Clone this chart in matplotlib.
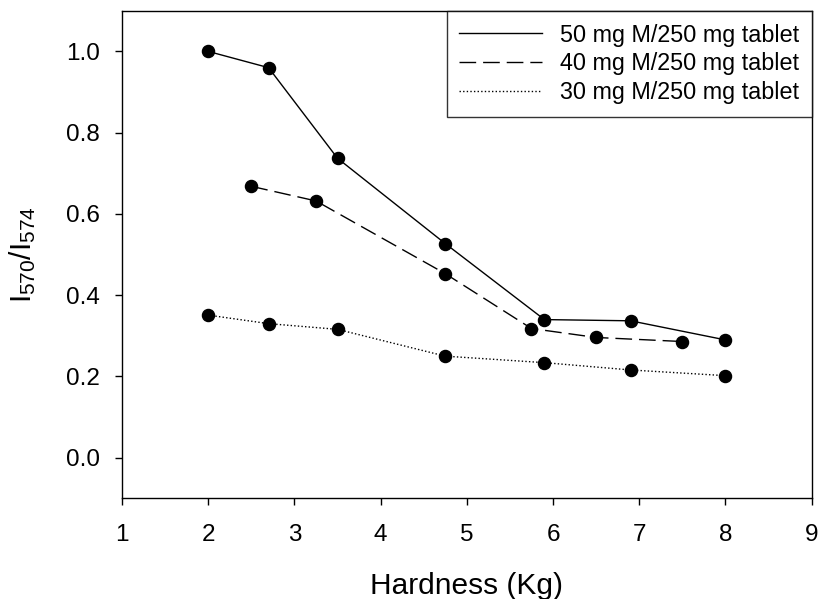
import matplotlib
matplotlib.use('Agg')
import matplotlib.pyplot as plt

# hardness (Kg) and intensity ratio for each tablet loading
hard_50 = [2.0, 2.7, 3.5, 4.75, 5.9, 6.9, 8.0]
ratio_50 = [1.0, 0.96, 0.737, 0.527, 0.34, 0.337, 0.29]

hard_40 = [2.5, 3.25, 4.75, 5.75, 6.5, 7.5]
ratio_40 = [0.668, 0.632, 0.453, 0.318, 0.296, 0.286]

hard_30 = [2.0, 2.7, 3.5, 4.75, 5.9, 6.9, 8.0]
ratio_30 = [0.351, 0.33, 0.316, 0.25, 0.234, 0.216, 0.202]

labels = ['50 mg M/250 mg tablet', '40 mg M/250 mg tablet', '30 mg M/250 mg tablet']
x_ticks = [1, 2, 3, 4, 5, 6, 7, 8, 9]
y_ticks = [0.0, 0.2, 0.4, 0.6, 0.8, 1.0]

plt.rcParams['font.family'] = ['Liberation Sans', 'DejaVu Sans']
plt.rcParams['mathtext.default'] = 'regular'


def plot():
    fig = plt.figure(figsize=(8.19, 5.99), dpi=100)
    ax = fig.add_axes([0.149, 0.168, 0.842, 0.814])
    ax.plot(hard_50, ratio_50, color='black', linewidth=1.0, marker='o', markersize=8.7, label=labels[0])
    ax.plot(hard_40, ratio_40, color='black', linewidth=1.0, dashes=(12, 5), marker='o', markersize=8.7,
            label=labels[1])
    ax.plot(hard_30, ratio_30, color='black', linewidth=1.0, dashes=(1, 1.6), marker='o', markersize=8.7,
            label=labels[2])
    ax.set_xlim(1, 9)
    ax.set_ylim(-0.1, 1.1)
    ax.set_xticks(x_ticks)
    ax.set_yticks(y_ticks)
    ax.set_yticklabels(['%.1f' % v for v in y_ticks])
    ax.tick_params(direction='out', length=5, width=1, labelsize=17.5)
    ax.tick_params(axis='y', pad=11)
    ax.tick_params(axis='x', pad=13.5)
    for sp in ax.spines.values():
        sp.set_linewidth(1.0)
    ax.set_xlabel('Hardness (Kg)', size=21.5, labelpad=19)
    ax.set_ylabel('I$_{570}$/I$_{574}$', size=21.5, labelpad=20)
    leg = ax.legend(loc='upper right', handlelength=3.55, fontsize=16.8, frameon=True, fancybox=False,
                    edgecolor='black', borderaxespad=0, labelspacing=0.25, borderpad=0.55,
                    handletextpad=0.75)
    leg.get_frame().set_linewidth(1.0)
    for h in leg.legend_handles:
        h.set_marker('')
    fig.savefig('out.png', dpi=100)


if __name__ == '__main__':
    plot()
